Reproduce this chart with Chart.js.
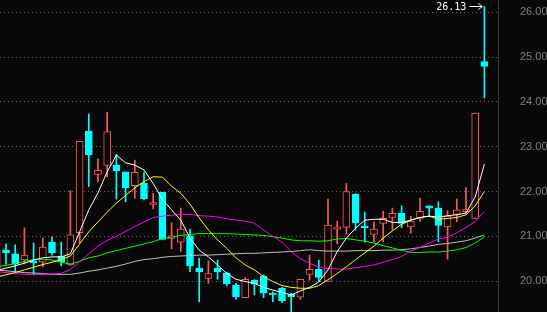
<!DOCTYPE html>
<html>
<head>
<meta charset="utf-8">
<script src="https://cdn.jsdelivr.net/npm/chart.js@4.4.1/dist/chart.umd.min.js"></script>
<style>
  html, body { margin: 0; padding: 0; background: #080808; overflow: hidden; }
</style>
</head>
<body>
<canvas id="kChart" width="547" height="312"></canvas>
<script>
// daily candles, oldest first (first one is cut off by the left edge)
var open = [20.25, 20.70, 20.61, 20.47, 20.43, 20.42, 20.87, 20.56, 20.36, 21.08,
  23.35, 22.38, 22.58, 22.59, 22.44, 22.13, 22.18, 21.71, 21.98, 20.95,
  20.87, 21.01, 20.29, 20.06, 20.29, 20.18, 19.91, 19.63, 20.02, 20.11,
  19.72, 19.84, 19.71, 19.64, 20.15, 20.26, 19.99, 21.16, 21.20, 21.94,
  21.21, 21.04, 21.29, 21.42, 21.51, 21.21, 21.40, 21.68, 21.63, 21.21,
  21.49, 21.55, 21.40, 24.90]
var high = [20.72, 20.83, 20.81, 21.19, 20.85, 20.96, 20.99, 20.87, 22.02, 23.12,
  23.73, 22.73, 23.77, 22.83, 22.44, 22.70, 22.42, 21.96, 21.98, 21.30,
  21.63, 21.16, 20.51, 20.45, 20.47, 20.20, 19.95, 20.08, 20.03, 20.14,
  19.76, 19.86, 19.73, 20.04, 20.58, 20.47, 21.83, 21.34, 22.18, 21.95,
  21.54, 21.32, 21.56, 21.63, 21.68, 21.45, 21.85, 21.68, 21.77, 21.57,
  21.83, 22.09, 23.75, 26.13]
var low = [20.20, 20.38, 20.21, 20.38, 20.15, 20.32, 20.58, 20.34, 20.35, 20.85,
  22.11, 22.22, 22.33, 21.83, 21.77, 21.85, 21.81, 21.61, 20.93, 20.72,
  20.66, 20.21, 19.54, 19.95, 20.04, 19.89, 19.59, 19.63, 19.69, 19.63,
  19.54, 19.52, 19.25, 19.59, 20.02, 19.99, 19.99, 20.83, 21.05, 21.14,
  20.87, 20.88, 20.88, 21.14, 21.19, 21.07, 21.33, 21.44, 20.88, 20.49,
  21.33, 21.51, 21.40, 24.09]
var close = [20.69, 20.63, 20.38, 20.58, 20.41, 20.76, 20.63, 20.43, 21.03, 23.12,
  22.82, 22.47, 23.34, 22.46, 22.08, 22.43, 21.84, 21.74, 20.93, 21.01,
  21.16, 20.34, 20.21, 20.17, 20.21, 19.94, 19.65, 20.04, 19.93, 19.73,
  19.69, 19.56, 19.65, 20.04, 20.26, 20.08, 21.25, 21.21, 22.00, 21.30,
  21.19, 21.16, 21.40, 21.51, 21.29, 21.34, 21.56, 21.63, 21.24, 21.45,
  21.59, 21.59, 23.75, 24.79]

// moving averages
var ma5 = [20.23, 20.29, 20.34, 20.40, 20.47, 20.52, 20.54, 20.54, 20.61, 21.10,
  21.59, 21.97, 22.44, 22.81, 22.64, 22.59, 22.48, 22.18, 21.82, 21.59,
  21.36, 20.96, 20.69, 20.54, 20.36, 20.17, 20.04, 19.99, 19.95, 19.86,
  19.80, 19.75, 19.69, 19.78, 19.86, 19.98, 20.25, 20.66, 20.96, 21.18,
  21.36, 21.38, 21.38, 21.31, 21.31, 21.36, 21.42, 21.45, 21.43, 21.46,
  21.48, 21.52, 21.88, 22.61]
var ma10 = [20.09, 20.14, 20.19, 20.25, 20.31, 20.37, 20.42, 20.48, 20.56, 20.83,
  21.10, 21.32, 21.54, 21.74, 21.91, 22.08, 22.22, 22.33, 22.32, 22.12,
  21.96, 21.72, 21.41, 21.14, 20.92, 20.73, 20.52, 20.36, 20.25, 20.10,
  19.99, 19.90, 19.86, 19.84, 19.84, 19.90, 20.03, 20.17, 20.32, 20.48,
  20.63, 20.78, 20.96, 21.12, 21.27, 21.36, 21.42, 21.45, 21.38, 21.40,
  21.42, 21.48, 21.68, 22.00]
var ma20 = [20.21, 20.19, 20.17, 20.15, 20.14, 20.15, 20.16, 20.17, 20.26, 20.43,
  20.61, 20.78, 20.91, 21.00, 21.11, 21.22, 21.32, 21.42, 21.45, 21.47,
  21.49, 21.49, 21.46, 21.45, 21.43, 21.39, 21.36, 21.34, 21.29, 21.14,
  21.00, 20.87, 20.66, 20.50, 20.40, 20.31, 20.28, 20.27, 20.27, 20.30,
  20.33, 20.36, 20.42, 20.48, 20.55, 20.67, 20.75, 20.85, 20.94, 20.98,
  21.08, 21.20, 21.33, 21.55]
var ma30 = [20.32, 20.35, 20.39, 20.44, 20.48, 20.49, 20.47, 20.42, 20.38, 20.44,
  20.52, 20.56, 20.63, 20.68, 20.73, 20.78, 20.83, 20.88, 20.95, 20.98,
  21.02, 21.04, 21.06, 21.06, 21.06, 21.06, 21.05, 21.04, 21.03, 21.02,
  20.99, 20.96, 20.92, 20.90, 20.90, 20.89, 20.90, 20.94, 20.95, 20.92,
  20.89, 20.85, 20.79, 20.74, 20.69, 20.64, 20.64, 20.65, 20.65, 20.67,
  20.70, 20.75, 20.85, 20.99]
var ma60 = [20.25, 20.23, 20.21, 20.19, 20.18, 20.17, 20.15, 20.15, 20.15, 20.18,
  20.22, 20.25, 20.29, 20.33, 20.38, 20.44, 20.48, 20.50, 20.53, 20.55,
  20.56, 20.57, 20.58, 20.58, 20.59, 20.60, 20.61, 20.62, 20.62, 20.63,
  20.64, 20.65, 20.66, 20.68, 20.70, 20.68, 20.67, 20.67, 20.67, 20.68,
  20.68, 20.68, 20.69, 20.69, 20.70, 20.72, 20.75, 20.78, 20.82, 20.84,
  20.87, 20.90, 20.96, 21.03]

var priceTicks = [20, 21, 22, 23, 24, 25, 26]

const bg = '#080808'
const upColor = '#ff5858'
const downColor = '#00ffff'

const days = open.map((_, i) => i)
const isUp = close.map((c, i) => c >= open[i])
const candleColor = isUp.map(u => (u ? upColor : downColor))

const bodies = days.map((d, i) => ({ x: d, y: [open[i], close[i]] }))
const wicks = days.map((d, i) => ({ x: d, y: [low[i], high[i]] }))
const asLine = vals => days.map((d, i) => ({ x: d, y: vals[i] }))

function maLine(vals, color) {
  return {
    type: 'line',
    data: asLine(vals),
    borderColor: color,
    borderWidth: 1,
    pointRadius: 0,
    tension: 0,
    order: 0,
  }
}

// separator on the right and the marker for the highest price
const overlay = {
  id: 'overlay',
  afterDatasetsDraw(chart) {
    const { ctx, chartArea, scales } = chart
    ctx.save()
    const sx = Math.round(chartArea.right) + 0.5
    ctx.strokeStyle = '#3a3a3a'
    ctx.lineWidth = 1
    ctx.beginPath()
    ctx.moveTo(sx, 0)
    ctx.lineTo(sx, chart.height)
    ctx.stroke()

    const top = high.indexOf(Math.max(...high))
    const px = scales.x.getPixelForValue(days[top])
    const py = Math.round(scales.y.getPixelForValue(high[top])) + 0.5
    ctx.strokeStyle = '#ffffff'
    ctx.beginPath()
    ctx.moveTo(px - 15, py)
    ctx.lineTo(px - 2, py)
    ctx.moveTo(px - 6, py - 3)
    ctx.lineTo(px - 2, py)
    ctx.lineTo(px - 6, py + 3)
    ctx.stroke()
    ctx.fillStyle = '#ffffff'
    ctx.font = '10px "DejaVu Sans Mono"'
    ctx.textAlign = 'right'
    ctx.textBaseline = 'middle'
    ctx.fillText(high[top].toFixed(2), px - 18, py + 1)
    ctx.restore()
  },
}

const ctx = document.getElementById('kChart').getContext('2d')
const kChart = new Chart(ctx, {
  type: 'bar',
  data: {
    datasets: [
      maLine(ma5, '#ffffff'),
      maLine(ma10, '#ffff00'),
      maLine(ma20, '#ff00ff'),
      maLine(ma30, '#00ff00'),
      maLine(ma60, '#c0c0c0'),
      {
        data: bodies,
        backgroundColor: isUp.map(u => (u ? bg : downColor)),
        borderColor: candleColor,
        borderWidth: 1,
        borderSkipped: false,
        barThickness: 7,
        minBarLength: 2,
        grouped: false,
        order: 1,
      },
      {
        data: wicks,
        backgroundColor: candleColor,
        borderWidth: 0,
        barThickness: 1,
        grouped: false,
        order: 2,
      },
    ],
  },
  options: {
    responsive: false,
    animation: false,
    layout: { padding: 0 },
    plugins: { legend: { display: false }, tooltip: { enabled: false } },
    scales: {
      x: {
        type: 'linear',
        min: 0.348,
        max: 54.48,
        offset: false,
        display: false,
      },
      y: {
        position: 'right',
        min: 19.31,
        max: 26.275,
        beginAtZero: false,
        afterFit: scale => {
          scale.width = 49
          scale.paddingTop = 0
          scale.paddingBottom = 0
        },
        afterBuildTicks: scale => { scale.ticks = priceTicks.map(v => ({ value: v })) },
        grid: { color: '#6a6a6a', drawTicks: false },
        border: { display: false, dash: [1, 3] },
        ticks: {
          color: '#808080',
          padding: 22,
          font: { family: 'Liberation Sans', size: 11 },
          callback: v => v.toFixed(2),
        },
      },
    },
  },
  plugins: [overlay],
})
</script>
</body>
</html>
